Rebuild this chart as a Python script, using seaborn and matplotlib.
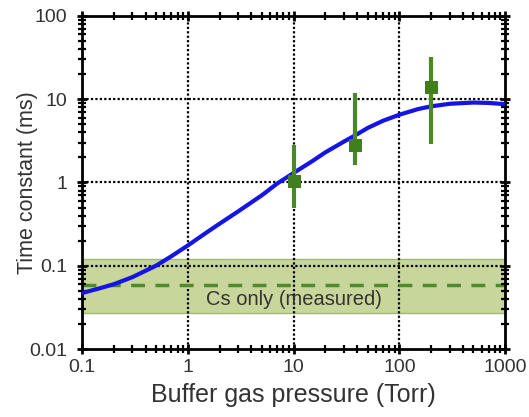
import numpy as np
import pandas as pd
import matplotlib
matplotlib.use("Agg")
import matplotlib.pyplot as plt
import seaborn as sns
from matplotlib.ticker import FixedLocator, FixedFormatter, NullFormatter

# model curve
curve_p = [0.1, 0.15, 0.2, 0.3, 0.5, 0.7, 1, 1.5, 2, 3, 5, 7, 10, 15, 20, 30, 40, 50, 70,
           100, 150, 200, 300, 500, 700, 1000]
curve_t = [0.047, 0.054, 0.060, 0.073, 0.10, 0.13, 0.175, 0.25, 0.32, 0.45, 0.70, 0.97,
           1.3, 1.8, 2.3, 3.1, 3.8, 4.5, 5.5, 6.5, 7.6, 8.2, 8.8, 9.1, 9.0, 8.7]

# measured points with error bars
meas_p = [10, 38, 200]
meas_t = [1.05, 2.8, 14.0]
meas_lo = [0.5, 1.6, 2.9]
meas_hi = [2.8, 11.7, 32.0]

# Cs only band
cs_mean = 0.058
cs_lo = 0.027
cs_hi = 0.122

xticks = [0.1, 1, 10, 100, 1000]
xlabels = ["0.1", "1", "10", "100", "1000"]
yticks = [0.01, 0.1, 1, 10, 100]
ylabels = ["0.01", "0.1", "1", "10", "100"]

sns.set_style("ticks")
plt.rcParams["font.family"] = ["Liberation Sans", "DejaVu Sans"]
plt.rcParams["axes.axisbelow"] = False

fig, ax = plt.subplots(figsize=(5.29, 4.17), dpi=100)
fig.subplots_adjust(left=0.155, right=0.955, bottom=0.163, top=0.962)

# band + dashed mean
ax.axhspan(cs_lo, cs_hi, facecolor="#c8d69c", edgecolor="#a3b872", lw=1, zorder=1)
ax.axhline(cs_mean, color="#4e8a2e", lw=2.5, ls=(0, (4, 3)), zorder=2)

df_curve = pd.DataFrame({"p": curve_p, "t": curve_t})
sns.lineplot(data=df_curve, x="p", y="t", ax=ax, color="#1414e6", lw=3, zorder=4)

err = np.array([np.array(meas_t) - np.array(meas_lo), np.array(meas_hi) - np.array(meas_t)])
ax.errorbar(meas_p, meas_t, yerr=err, fmt="none", ecolor="#4a8a26", elinewidth=3,
            capsize=0, zorder=5)
df_meas = pd.DataFrame({"p": meas_p, "t": meas_t})
sns.scatterplot(data=df_meas, x="p", y="t", ax=ax, marker="s", s=80, color="#3f7f1f",
                edgecolor="#3f7f1f", zorder=6)

ax.set_xscale("log")
ax.set_yscale("log")
ax.set_xlim(0.1, 1000)
ax.set_ylim(0.01, 100)

ax.text(10, 0.039, "Cs only (measured)", ha="center", va="center",
        fontsize=14.5, color="#333333", zorder=3)

# dotted grid at the decades
for v in xticks[1:-1]:
    ax.axvline(v, color="black", lw=1.6, ls=(0, (1, 1)), zorder=1.5)
for v in yticks[1:-1]:
    ax.axhline(v, color="black", lw=1.6, ls=(0, (1, 1)), zorder=1.5)

minor_x = [m * 10.0 ** e for e in range(-1, 3) for m in range(2, 10)]
minor_y = [m * 10.0 ** e for e in range(-2, 2) for m in range(2, 10)]

ax.xaxis.set_major_locator(FixedLocator(xticks))
ax.xaxis.set_major_formatter(FixedFormatter(xlabels))
ax.yaxis.set_major_locator(FixedLocator(yticks))
ax.yaxis.set_major_formatter(FixedFormatter(ylabels))
ax.xaxis.set_minor_locator(FixedLocator(minor_x))
ax.yaxis.set_minor_locator(FixedLocator(minor_y))
ax.xaxis.set_minor_formatter(NullFormatter())
ax.yaxis.set_minor_formatter(NullFormatter())
ax.tick_params(which="both", direction="inout", top=True, right=True, bottom=True, left=True)
ax.tick_params(which="major", length=7, width=2, color="black", labelcolor="#333333",
               labelsize=14)
ax.tick_params(axis="x", which="major", pad=4)
ax.tick_params(axis="y", which="major", pad=7)
ax.tick_params(which="minor", length=6, width=1.6, color="black")

for s in ax.spines.values():
    s.set_visible(True)
    s.set_color("black")
    s.set_linewidth(2)

ax.set_xlabel("Buffer gas pressure (Torr)", fontsize=18, color="#333333", va="top")
ax.set_ylabel("Time constant (ms)", fontsize=15.5, color="#333333")
ax.xaxis.set_label_coords(0.5, -0.102)
ax.yaxis.set_label_coords(-0.104, 0.5)

fig.savefig("out.png", dpi=100)
